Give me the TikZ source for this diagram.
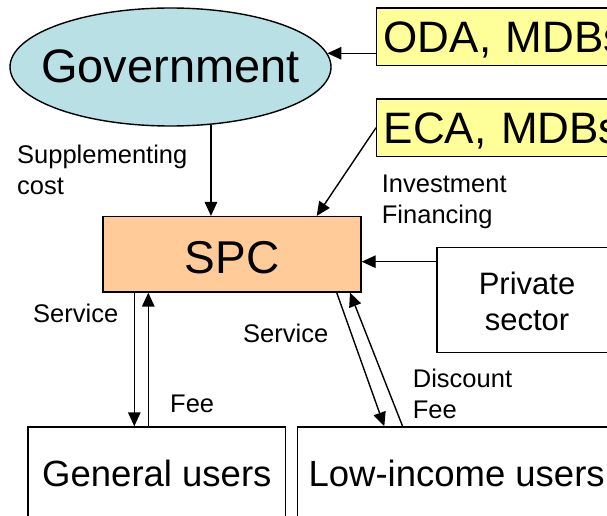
\documentclass[tikz,border=0pt]{standalone}
\usepackage{fontspec}
\setmainfont{Liberation Sans}
\usetikzlibrary{arrows.meta,shapes.geometric}
\definecolor{govblue}{RGB}{185,224,228}
\definecolor{spcorange}{RGB}{255,204,153}
\definecolor{srcyellow}{RGB}{255,255,153}
\begin{document}
\begin{tikzpicture}[x=1pt,y=-1pt,
  arr/.style={line width=1.4pt,-{Triangle[length=14pt,width=12.5pt]}},
  boxstyle/.style={draw,line width=1.4pt,rectangle,inner sep=0pt},
  lbl/.style={font=\fontsize{25.5}{31}\selectfont,inner sep=0pt,align=left,anchor=base west},
  bigfont/.style={font=\fontsize{46}{50}\selectfont},
  srcbox/.style={boxstyle,fill=srcyellow,anchor=north west,minimum width=300pt,
    text width=286pt,inner xsep=7pt,align=left,font=\fontsize{44}{48}\selectfont,
    text height=32pt,text depth=0pt},
  userbox/.style={boxstyle,minimum height=92pt,font=\fontsize{36.5}{40}\selectfont,
    text height=26pt,text depth=0pt}
]
\useasboundingbox (0,0) rectangle (607,516);
\clip (0,0) rectangle (607,516);

\node[draw,ellipse,fill=govblue,line width=1.4pt,minimum width=321pt,minimum height=118pt,
  inner sep=0pt,font=\fontsize{47}{51}\selectfont,text height=32pt,text depth=0pt] (gov) at (170.5,67) {\makebox[0pt]{Government}};
\node[srcbox,minimum height=57.7pt] (oda) at (376,7.3) {ODA, MDBs};
\node[srcbox,minimum height=57.4pt] (eca) at (376,98.3) {ECA, MDBs};
\node[boxstyle,fill=spcorange,minimum width=258pt,minimum height=75.3pt,bigfont,
  text height=38pt,text depth=0pt] (spc) at (232,254.3) {SPC};
\node[boxstyle,minimum width=180.3pt,minimum height=105pt,align=center,
  font=\fontsize{31}{36}\selectfont,text height=62pt,text depth=0pt] (priv) at (527,299.8) {Private\\sector};
\node[userbox,minimum width=257.7pt] (gen) at (156.85,473) {General users};
\node[userbox,minimum width=318.7pt] (low) at (456.65,473) {Low-income users};

\draw[arr] (gov.-55) -- (gov.-55 |- spc.north);
\draw[arr] (gov.5.6 -| oda.west) -- (gov.5.6);
\draw[arr] (eca.west) -- ([xshift=84.7pt]spc.north);
\coordinate (pw) at ([yshift=38.1pt]priv.west);
\draw[arr] (pw) -- (pw -| spc.east);
\coordinate (s1) at ([xshift=-97.7pt]spc.south);
\draw[arr] (s1) -- (s1 |- gen.north);
\coordinate (f1) at ([xshift=-83.7pt]spc.south);
\draw[arr] (f1 |- gen.north) -- (f1);
\draw[arr] ([xshift=104.7pt]spc.south) -- ([xshift=87.7pt]low.north west);
\draw[arr] ([xshift=106pt]low.north west) -- ([xshift=118pt]spc.south);

\node[lbl] (lsup) at (17,194) {Supplementing\\cost};
\node[lbl] (linv) at (381.7,223) {Investment\\Financing};
\node[lbl] (lsv1) at (33,322.3) {Service};
\node[lbl] (lsv2) at (243,342.7) {Service};
\node[lbl] (lfee) at (170,412.7) {Fee};
\node[lbl] (ldis) at (412.7,418) {Discount\\Fee};
\end{tikzpicture}
\end{document}
